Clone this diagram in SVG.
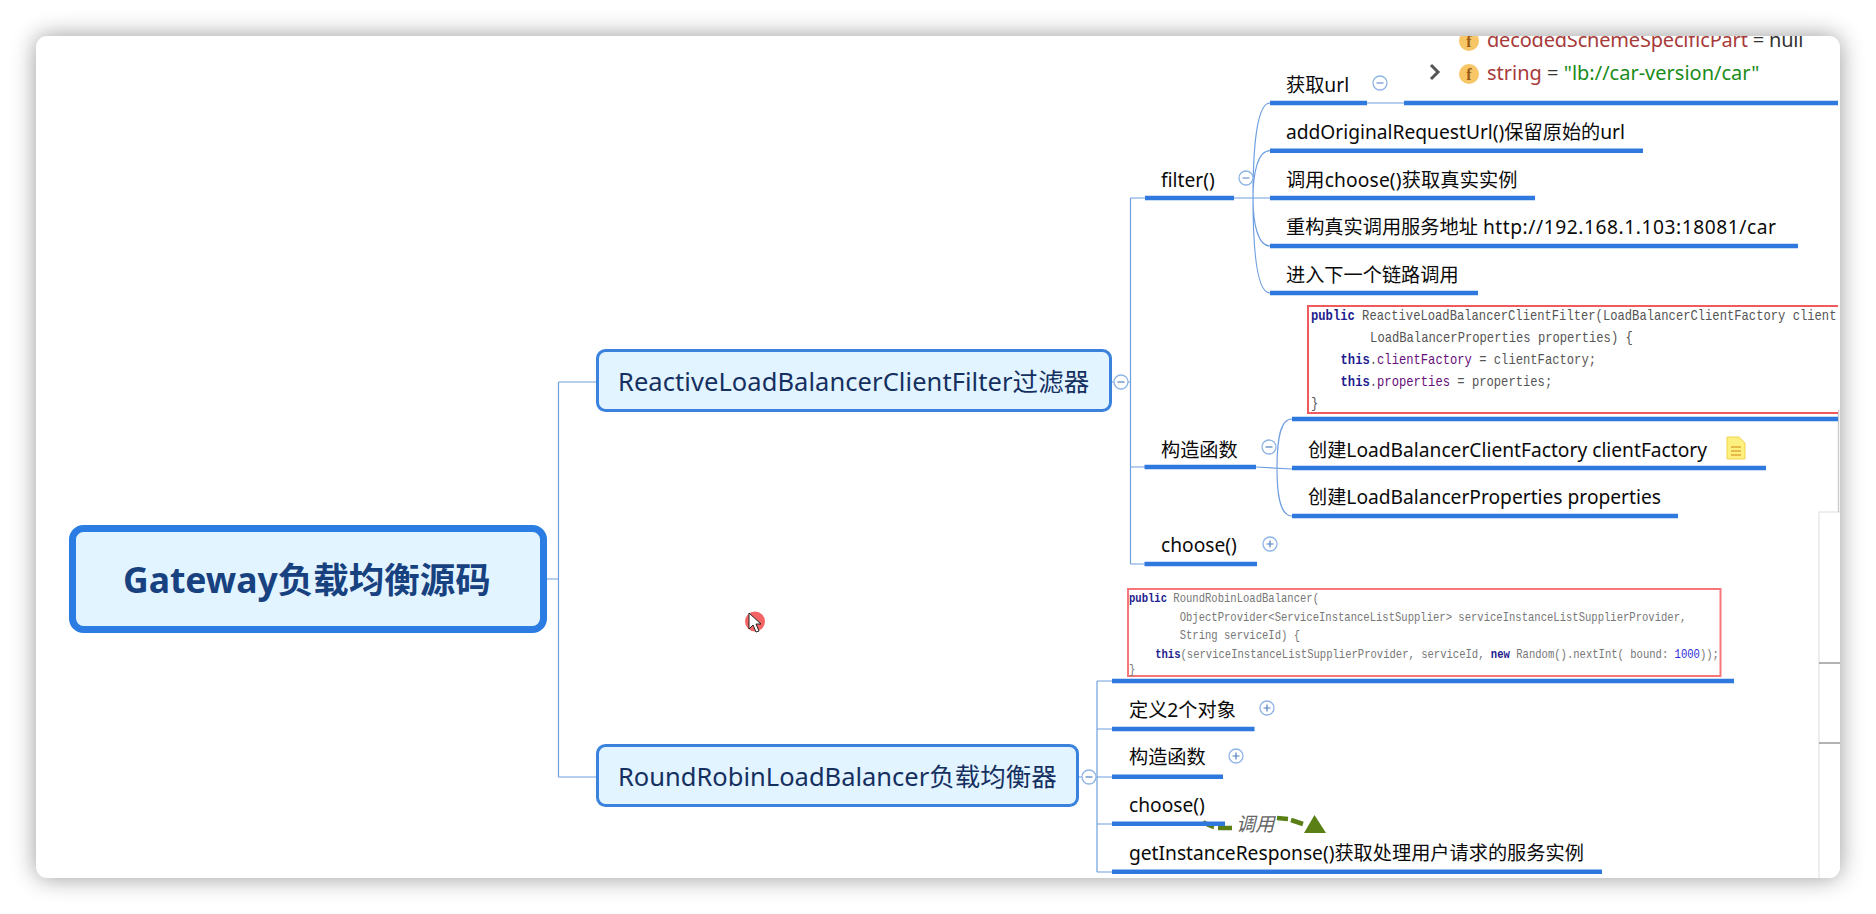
<svg xmlns="http://www.w3.org/2000/svg" width="1876" height="914" viewBox="0 0 1876 914">
<style>
text{font-family:"Noto Sans","Noto Sans CJK SC",sans-serif;white-space:pre}
.t{font-size:19.2px;fill:#0a0a0a}
.t2{font-size:25.5px;fill:#15305f}
.c{font-family:"Liberation Mono","Noto Sans CJK SC",monospace;font-size:14px;fill:#555}
.c2{font-family:"Liberation Mono","Noto Sans CJK SC",monospace;font-size:12.5px;fill:#777}
.k{fill:#1d1d8f;font-weight:bold}
.p{fill:#660e7a}
.u{stroke:#2f78de;stroke-width:4.5;fill:none}
.l{stroke:#6f9fe0;stroke-width:1.2;fill:none}
.o{fill:#fff;stroke:#8fb4e6;stroke-width:1.3}
.s{stroke:#4f7fc0;stroke-width:1.2}
.cb{fill:#fff;stroke:#f05a5f;stroke-width:2}
.n{fill:#e2f4ff;stroke:#3a82dc;stroke-width:3}
.f{fill:#f6c667}
.ft{font-family:"Liberation Serif",serif;font-size:16px;font-weight:bold;fill:#9a5a14;text-anchor:middle}
</style>
<defs>
<filter id="sh" x="-5%" y="-10%" width="110%" height="120%"><feGaussianBlur stdDeviation="12"/></filter>
<clipPath id="w"><rect x="36" y="36" width="1804" height="842" rx="11"/></clipPath>
<clipPath id="w2"><rect x="36" y="36" width="1802" height="842" rx="11"/></clipPath>
</defs>
<rect width="1876" height="914" fill="#fff"/>
<rect x="36" y="36" width="1804" height="842" rx="11" fill="#000" opacity=".4" filter="url(#sh)"/>
<rect x="36" y="36" width="1804" height="842" rx="11" fill="#fff"/>
<g clip-path="url(#w)">
<g id="side-panel">
<rect x="1819" y="512" width="30" height="380" fill="#fff" stroke="#ddd"/>
<path d="M1819 663H1840M1819 743H1840" stroke="#666" stroke-width="1"/>
<path d="M1838.500 410V512" stroke="#ccc" stroke-width="1.500"/>
</g>
</g>
<g clip-path="url(#w2)">
<g id="connectors">
<path class="l" d="M547 579H558.500M558.500 382V777M558.500 382H596M558.500 777H596"/>
<path class="l" d="M1112 382H1130.500M1130.500 198V564M1130.500 198H1145M1130.500 467H1145M1130.500 564H1145"/>
<path class="l" d="M1234 198H1270M1253 198C1253 140 1258 103 1270 103M1253 198C1253 172 1258 150.700 1270 150.700M1253 198C1253 224 1258 246 1270 246M1253 198C1253 256 1258 293 1270 293M1367 103H1404"/>
<path class="l" d="M1256 467L1292 469M1277 468C1277 440 1280 419 1292 419M1277 468C1277 495 1280 516 1292 516"/>
<path class="l" d="M1079 777H1112M1097 681V872M1097 681H1112M1097 729H1112M1097 824H1112M1097 872H1112"/>
<path d="M1203 822Q1209 826 1214 827M1218 828H1232M1277 818L1288 819M1291 820L1303 824" stroke="#5a8015" stroke-width="4.500" fill="none"/>
<polygon points="1314.500,815 1326,833 1304,833" fill="#5a8015"/>
<text x="1236" y="831" style="font-size:19.200px;font-style:italic;fill:#666">调用</text>
</g>
<g id="root">
<rect x="72.500" y="528.500" width="471" height="101" rx="11" fill="#e2f4ff" stroke="#2b7ce3" stroke-width="7"/>
<text x="123" y="593" style="font-size:35.500px;font-weight:bold;fill:#17417f">Gateway负载均衡源码</text>
</g>
<g id="node-reactive">
<rect class="n" x="597.500" y="350.500" width="513" height="60" rx="8"/>
<text class="t2" x="618" y="391" style="letter-spacing:.065px">ReactiveLoadBalancerClientFilter过滤器</text>
<circle class="o" cx="1121" cy="382" r="7"/><path class="s" d="M1117.500 382H1124.500"/>
</g>
<g id="node-filter">
<text class="t" x="1161" y="187">filter()</text>
<path class="u" d="M1145 198H1234"/>
<circle class="o" cx="1246" cy="178" r="7"/><path class="s" d="M1242.500 178H1249.500"/>
</g>
<g id="node-geturl">
<text class="t" x="1286" y="92">获取url</text>
<path class="u" d="M1270 103H1367M1404 103H1838"/>
<circle class="o" cx="1380" cy="83" r="7"/><path class="s" d="M1376.500 83H1383.500"/>
<path d="M1431 65L1438 72L1431 79" fill="none" stroke="#555" stroke-width="3"/>
<circle class="f" cx="1469" cy="41" r="10"/><text class="ft" x="1469" y="47">f</text>
<text x="1487" y="47" textLength="316.500" style="font-size:20px;fill:#333"><tspan fill="#a83a3a">decodedSchemeSpecificPart</tspan> = null</text>
<circle class="f" cx="1469" cy="74" r="10"/><text class="ft" x="1469" y="80">f</text>
<text x="1487" y="80" style="font-size:20px;fill:#333"><tspan fill="#a83a3a">string</tspan> = <tspan fill="#1a8c1a">"lb://car-version/car"</tspan></text>
</g>
<g id="node-addurl"><text class="t" x="1286" y="139">addOriginalRequestUrl()保留原始的url</text><path class="u" d="M1270 150.700H1643"/></g>
<g id="node-callchoose"><text class="t" x="1286" y="187" style="letter-spacing:.15px">调用choose()获取真实实例</text><path class="u" d="M1270 198H1535"/></g>
<g id="node-rebuild"><text class="t" x="1286" y="234">重构真实调用服务地址 <tspan style="letter-spacing:.55px">http://192.168.1.103:18081/car</tspan></text><path class="u" d="M1270 246H1798"/></g>
<g id="node-next"><text class="t" x="1286" y="282">进入下一个链路调用</text><path class="u" d="M1270 293H1478"/></g>
<g id="node-ctor1">
<rect class="cb" x="1308" y="306" width="560" height="107"/>
<g transform="translate(1311 0) scale(.869 1)">
<text class="c" y="320"><tspan class="k">public</tspan> ReactiveLoadBalancerClientFilter(LoadBalancerClientFactory client</text>
<text class="c" x="68" y="342">LoadBalancerProperties properties) {</text>
<text class="c" x="34" y="364"><tspan class="k">this</tspan>.<tspan class="p">clientFactory</tspan> = clientFactory;</text>
<text class="c" x="34" y="386"><tspan class="k">this</tspan>.<tspan class="p">properties</tspan> = properties;</text>
<text class="c" y="408">}</text>
</g>
<path class="u" d="M1292 419H1838M1144.500 467H1256"/>
<text class="t" x="1161" y="457">构造函数</text>
<circle class="o" cx="1269" cy="447" r="7"/><path class="s" d="M1265.500 447H1272.500"/>
</g>
<g id="node-factory">
<text class="t" x="1308" y="457">创建LoadBalancerClientFactory clientFactory</text>
<path class="u" d="M1292 468H1766"/>
<path d="M1727 437H1739L1745 443V459H1727Z" fill="#fdf07e" stroke="#f3d24f"/>
<path d="M1731 447H1741M1731 451H1741M1731 455H1741" stroke="#e0a93a" stroke-width="1.500"/>
</g>
<g id="node-props"><text class="t" x="1308" y="504">创建LoadBalancerProperties properties</text><path class="u" d="M1292 516H1678"/></g>
<g id="node-choose1">
<text class="t" x="1161" y="552">choose()</text><path class="u" d="M1144.500 564H1257"/>
<circle class="o" cx="1270" cy="544" r="7"/><path class="s" d="M1266.500 544H1273.500M1270 540.500V547.500"/>
</g>
<g id="node-roundrobin">
<rect class="n" x="597.500" y="745.500" width="480" height="60" rx="8"/>
<text class="t2" x="618" y="786">RoundRobinLoadBalancer负载均衡器</text>
<circle class="o" cx="1089" cy="777" r="7"/><path class="s" d="M1085.500 777H1092.500"/>
</g>
<g id="node-define">
<rect class="cb" style="stroke:#f7767b" x="1128" y="589" width="592.500" height="87"/>
<g transform="translate(1129 0) scale(.845 1)">
<text class="c2" y="602"><tspan class="k">public</tspan> RoundRobinLoadBalancer(</text>
<text class="c2" x="60" y="621">ObjectProvider&lt;ServiceInstanceListSupplier&gt; serviceInstanceListSupplierProvider,</text>
<text class="c2" x="60" y="639">String serviceId) {</text>
<text class="c2" x="31" y="658"><tspan class="k">this</tspan>(serviceInstanceListSupplierProvider, serviceId, <tspan class="k">new</tspan> Random().nextInt( bound: <tspan fill="#2a2ae0">1000</tspan>));</text>
<text class="c2" y="673">}</text>
</g>
<path class="u" d="M1112 681H1734M1112 729H1254.500"/>
<text class="t" x="1129" y="717">定义2个对象</text>
<circle class="o" cx="1267" cy="708" r="7"/><path class="s" d="M1263.500 708H1270.500M1267 704.500V711.500"/>
</g>
<g id="node-ctor2">
<text class="t" x="1129" y="764">构造函数</text><path class="u" d="M1112 776.700H1223"/>
<circle class="o" cx="1236" cy="756" r="7"/><path class="s" d="M1232.500 756H1239.500M1236 752.500V759.500"/>
</g>
<g id="node-choose2"><text class="t" x="1129" y="812">choose()</text><path class="u" d="M1112 823.700H1225"/></g>
<g id="node-getinstance"><text class="t" x="1129" y="860">getInstanceResponse()获取处理用户请求的服务实例</text><path class="u" d="M1112 871.700H1602"/></g>
<g id="cursor">
<circle cx="755" cy="621.500" r="10" fill="#f56464"/>
<polygon points="749,613 749,629 753,625 756,632 759,631 756,624 761,624" fill="#fff" stroke="#222" stroke-width="1"/>
</g>
</g>
</svg>
